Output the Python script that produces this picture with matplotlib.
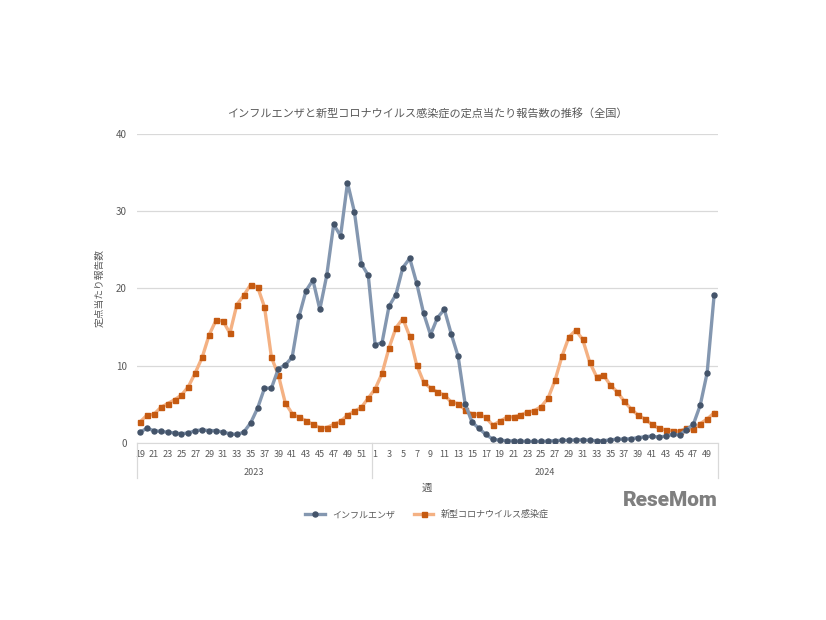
import numpy as np
import matplotlib
matplotlib.use("Agg")
import matplotlib.pyplot as plt
import matplotlib.transforms as mtransforms

plt.rcParams['font.family'] = ['Noto Sans CJK JP', 'DejaVu Sans']

# weeks: 2023 w19-52, 2024 w1-50
weeks_2023 = list(range(19, 53))
weeks_2024 = list(range(1, 51))
years = ["2023", "2024"]

flu = [1.4, 1.9, 1.6, 1.5, 1.4, 1.3, 1.2, 1.3, 1.6, 1.7, 1.6, 1.6, 1.4, 1.2, 1.1, 1.4,
       2.6, 4.5, 7.1, 7.1, 9.6, 10.1, 11.1, 16.4, 19.7, 21.1, 17.3, 21.7, 28.3, 26.8,
       33.7, 29.9, 23.2, 21.7,
       12.7, 13.0, 17.7, 19.2, 22.7, 23.9, 20.7, 16.8, 14.0, 16.2, 17.3, 14.1, 11.2,
       5.1, 2.7, 1.9, 1.1, 0.5, 0.35, 0.3, 0.26, 0.25, 0.2, 0.2, 0.2, 0.25, 0.3, 0.35,
       0.35, 0.4, 0.4, 0.35, 0.3, 0.3, 0.4, 0.5, 0.5, 0.55, 0.7, 0.8, 0.9, 0.75, 0.9,
       1.1, 1.05, 1.7, 2.4, 4.9, 9.1, 19.1]

covid = [2.7, 3.6, 3.7, 4.6, 5.1, 5.6, 6.2, 7.3, 9.1, 11.1, 14.0, 15.9, 15.8, 14.2,
         17.9, 19.1, 20.5, 20.2, 17.6, 11.1, 8.8, 5.2, 3.8, 3.3, 2.9, 2.4, 2.0, 2.0,
         2.4, 2.8, 3.6, 4.1, 4.6, 5.8,
         7.0, 9.0, 12.3, 14.9, 16.1, 13.8, 10.1, 7.9, 7.1, 6.6, 6.2, 5.3, 5.1, 4.3,
         3.75, 3.7, 3.3, 2.3, 2.8, 3.3, 3.4, 3.6, 4.0, 4.2, 4.7, 5.8, 8.1, 11.2, 13.7,
         14.6, 13.4, 10.5, 8.6, 8.8, 7.5, 6.6, 5.4, 4.4, 3.6, 3.1, 2.4, 1.9, 1.7, 1.6,
         1.5, 1.9, 1.8, 2.5, 3.1, 3.9]

weeks = weeks_2023 + weeks_2024
x = np.arange(len(weeks))
text_c = "#595959"

fig = plt.figure(figsize=(8.26, 6.2), dpi=100)
ax = fig.add_axes([0.1653, 0.2855, 0.7034, 0.4984])

ax.plot(x, flu, color="#8497B0", lw=2.4, marker="o", ms=3.6,
        mfc="#44546A", mec="#44546A", label="インフルエンザ", zorder=3)
ax.plot(x, covid, color="#F4B183", lw=2.4, marker="s", ms=3.6,
        mfc="#C55A11", mec="#C55A11", label="新型コロナウイルス感染症", zorder=2)

ax.set_xlim(-0.5, len(weeks) - 0.5)
ax.set_ylim(0, 40)
ax.set_yticks([0, 10, 20, 30, 40])
ax.yaxis.grid(True, color="#D9D9D9", lw=0.9)
ax.set_axisbelow(True)
for s in ["top", "right", "left"]:
    ax.spines[s].set_visible(False)
ax.spines["bottom"].set_color("#D9D9D9")
ax.tick_params(axis="y", length=0, labelsize=7, labelcolor=text_c, pad=7)
ax.tick_params(axis="x", length=0, labelsize=6.5, labelcolor=text_c, pad=5)
ax.set_xticks(x[::2])
ax.set_xticklabels([str(w) for w in weeks[::2]])

# year group separators and labels
tr = mtransforms.blended_transform_factory(ax.transData, ax.transAxes)
n23 = len(weeks_2023)
for xs in [-0.5, n23 - 0.5, len(weeks) - 0.5]:
    ax.plot([xs, xs], [0, -0.113], color="#D9D9D9", lw=0.9, transform=tr, clip_on=False)
ax.text((n23 - 1) / 2, -0.095, years[0], transform=tr, ha="center", va="center",
        fontsize=6.5, color=text_c)
ax.text(n23 + (len(weeks_2024) - 1) / 2, -0.095, years[1], transform=tr, ha="center",
        va="center", fontsize=6.5, color=text_c)

ax.text(0.5, -0.145, "週", transform=ax.transAxes, ha="center", va="center",
        fontsize=7.5, color=text_c)
ax.set_ylabel("定点当たり報告数", fontsize=7, color=text_c, labelpad=8)
ax.set_title("インフルエンザと新型コロナウイルス感染症の定点当たり報告数の推移（全国）",
             fontsize=8, color=text_c, pad=12)

ax.legend(loc="upper center", bbox_to_anchor=(0.5, -0.19), ncol=2, frameon=False,
          fontsize=6.5, labelcolor=text_c, handlelength=2.2, columnspacing=2.0)

fig.text(0.812, 0.193, "ReseMom", fontsize=15, fontweight="heavy", color="#7F7F7F",
         ha="center", va="center", family=["Roboto", "DejaVu Sans"])

fig.savefig("out.png", dpi=100)
